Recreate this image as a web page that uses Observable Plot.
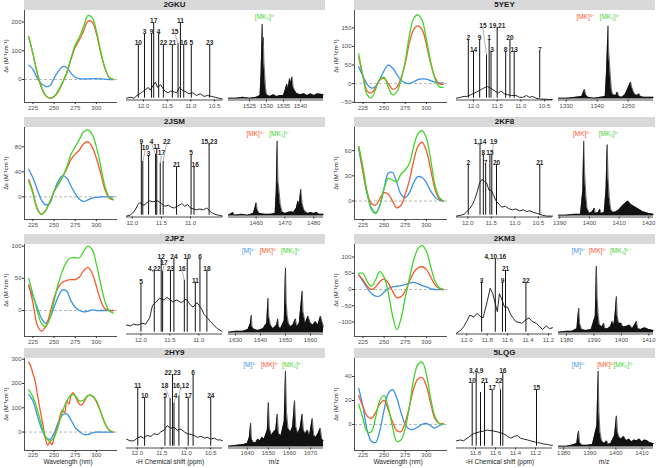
<!DOCTYPE html>
<html><head><meta charset="utf-8">
<script src="https://cdn.jsdelivr.net/npm/d3@7"></script>
<script src="https://cdn.jsdelivr.net/npm/@observablehq/plot@0.6"></script>
<style>
body{margin:0;background:#fff;font-family:"Liberation Sans",Arial,sans-serif}
#fig{position:relative;width:660px;height:468px;overflow:hidden;background:#fff}
</style></head><body><div id="fig"></div>
<script>
// ---------- shared ----------
const wl = [220,225,230,235,240,245,250,255,260,265,270,275,280,285,290,295,300,305,310,315,320];
const wlFine = [220,222.5,225,227.5,230,232.5,235,237.5,240,242.5,245,247.5,250,252.5,255,257.5,260,262.5,265,267.5,270,272.5,275,277.5,280,282.5,285,287.5,290,292.5,295,297.5,300,302.5,305,307.5,310,312.5,315,317.5,320];
const cdTicksX = [225,250,275,300];
const seriesNames = ["M","MK","MK2"];
const msLabelText = {M:"[M]⁵⁻", MK:"[MK]⁵⁻", MK2:"[MK₂]⁵⁻"};

// ---------- 2GKU ----------
const gku_M   = [50,35,5,-15,-24,-22,5,28,45,42,22,8,3,2,2,3,3,2,1,0,0];
const gku_MK  = [148,88,22,-28,-57,-65,-60,-42,-12,22,70,112,138,170,203,200,160,95,40,8,0];
const gku_MK2 = [150,90,25,-25,-55,-65,-58,-38,-10,25,75,120,148,185,222,215,170,100,42,8,0];
const gku_cdTicks = [0,100,200];
const gku_nmrTicks = [12.0,11.5,11.0,10.5];
const gku_base = [[12.36,2],[12.28,3],[12.2,2],[12.14,5],[12.05,8],[11.95,12],[11.9,14],[11.86,11],[11.8,16],[11.75,20],[11.7,14],[11.64,17],[11.55,10],[11.48,8],[11.43,10],[11.35,9],[11.3,8],[11.24,14],[11.18,11],[11.1,9],[11.04,7],[10.95,8],[10.88,5],[10.8,7],[10.72,4],[10.65,5],[10.56,4],[10.48,3],[10.4,2],[10.33,1]];
const gku_peaks = [
 {p:12.11,h:61.8,t:"10"},{p:11.98,h:74.2,t:"3"},{p:11.83,h:74.2,t:"9"},{p:11.785,h:86.5,t:"17"},
 {p:11.68,h:74.2,t:"4"},{p:11.58,h:61.8,t:"22"},{p:11.39,h:61.8,t:"21"},{p:11.27,h:63,t:"15",lx:11.34,lh:74.2},
 {p:11.22,h:86.5,t:"11"},{p:11.15,h:61.8,t:"16"},{p:10.99,h:61.8,t:"5"},{p:10.60,h:61.8,t:"23"}];
const gku_ms = [[1518.8,2],[1521,2],[1523,3],[1525,2],[1527,3],[1528.1,5],[1528.4,30],[1528.6,60],[1528.75,85],[1528.9,62],[1529.05,70],[1529.25,42],[1529.45,30],[1529.7,14],[1530,6],[1531,4],[1532,6],[1533,4],[1534,5],[1535,5],[1535.5,11],[1536,18],[1536.4,13],[1536.8,24],[1537.2,19],[1537.5,26],[1537.9,14],[1538.4,10],[1539,7],[1540,6],[1541,7],[1542,5],[1543,7],[1544,5],[1545,7],[1546.8,6]];
const gku_msTicks = [1525,1530,1535,1540];
const gku_msLab = [[1529.6,"MK2"]];

// ---------- 5YEY ----------
const yey_M   = [45,20,-2,-12,-8,12,35,50,42,25,9,2,0,5,11,13,12,8,4,2,2];
const yey_MK  = [72,20,-20,-25,-10,10,14,0,-15,-10,15,55,110,145,155,145,105,55,18,0,-2];
const yey_MK2 = [80,20,-30,-38,-15,12,17,-10,-30,-22,10,60,130,175,185,170,120,60,15,-8,-10];
const yey_cdTicks = [-50,0,50,100,150];
const yey_nmrTicks = [12.0,11.5,11.0,10.5];
const yey_base = [[12.36,2],[12.28,3],[12.2,4],[12.14,4],[12.05,6],[11.97,8],[11.9,10],[11.83,12],[11.76,14],[11.7,15],[11.6,12],[11.55,10],[11.47,8],[11.42,10],[11.35,7],[11.28,6],[11.2,5],[11.1,5],[11.03,3],[10.96,3],[10.88,5],[10.82,3],[10.75,4],[10.68,2],[10.58,1],[10.5,1],[10.4,0.5],[10.33,0.5]];
const yey_peaks = [
 {p:12.11,h:67.4,t:"2"},{p:12.0,h:54.3,t:"14"},{p:11.87,h:67.4,t:"9"},{p:11.725,h:50,t:"15",lx:11.80,lh:80.6},
 {p:11.67,h:67.4,t:"1"},{p:11.63,h:54.3,t:"3",lx:11.61},{p:11.50,h:80.6,t:"19,21"},{p:11.32,h:54.3,t:"8"},
 {p:11.23,h:67.4,t:"20"},{p:11.14,h:54.3,t:"13"},{p:10.60,h:54.3,t:"7"}];
const yey_ms = [[1327.5,2],[1330,2],[1333,3],[1335,4],[1335.5,8],[1335.9,12],[1336.3,6],[1337,3],[1339,2],[1341,3],[1342.6,4],[1343,30],[1343.3,60],[1343.5,83],[1343.7,55],[1344,40],[1344.3,25],[1344.6,12],[1345,6],[1346,5],[1346.5,9],[1347,4],[1348,3],[1349,6],[1349.8,12],[1350.3,16],[1350.8,20],[1351.2,14],[1351.6,10],[1352.2,6],[1353,5],[1353.5,7],[1354,4],[1355,3],[1356,3],[1358.2,3]];
const yey_msTicks = [1330,1340,1350];
const yey_msLab = [[1336.2,"MK"],[1344.1,"MK2"]];

// ---------- 2JSM ----------
const jsm_M   = [44,30,12,-5,-13,-10,9,25,34,30,17,5,-4,-7.5,-5,-2,-1,0,0,0,0];
const jsm_MK  = [28,8,-18,-28,-22,-8,8,20,32,45,60,68,75,85,88,80,62,38,12,-2,-5];
const jsm_MK2 = [25,5,-20,-28,-22,-8,8,20,32,48,68,80,92,104,107,100,80,50,18,0,-4];
const jsm_cdTicks = [0,40,80];
const jsm_nmrTicks = [12.0,11.5,11.0];
const jsm_base = [[12.1,1],[12.04,2],[12.0,4],[11.95,8],[11.9,14],[11.87,16],[11.8,13],[11.75,16],[11.7,18],[11.64,17],[11.56,18],[11.5,15],[11.44,12],[11.38,13],[11.33,11],[11.28,10],[11.2,13],[11.15,15],[11.1,12],[11.05,14],[11.0,10],[10.9,8],[10.84,9],[10.78,8],[10.72,10],[10.64,5],[10.58,3],[10.52,2],[10.45,1]];
const jsm_peaks = [
 {p:11.845,h:82.4,t:"9"},{p:11.82,h:62,t:"10",lx:11.775,lh:75.5},{p:11.72,h:68.5,t:"3"},{p:11.6,h:70,t:"4",lx:11.67,lh:82.4},
 {p:11.58,h:76.7,t:"11"},{p:11.52,h:60,t:"17",lx:11.5,lh:69.3},{p:11.47,h:62,t:"22",lx:11.41,lh:82.4},{p:11.24,h:56.2,t:"21"},
 {p:10.99,h:69.3,t:"5"},{p:10.94,h:56.2,t:"16",lx:10.92},{p:10.68,h:82.4,t:"15,23"}];
const jsm_ms = [[1450.4,2],[1452,5],[1452.5,2],[1455,3],[1457,2],[1459,4],[1459.6,10],[1460,16],[1460.4,8],[1461,4],[1463,3],[1465,3],[1466.6,4],[1467,30],[1467.3,85],[1467.6,40],[1468,28],[1468.4,14],[1469,6],[1470,4],[1471,5],[1472,6],[1473,5],[1474,10],[1474.5,18],[1475,14],[1475.5,31],[1476,15],[1476.5,9],[1477,6],[1478,4],[1479,5],[1480,4],[1481,5],[1482,3],[1483.4,3]];
const jsm_msTicks = [1460,1470,1480];
const jsm_msLab = [[1459.8,"MK"],[1468.1,"MK2"]];

// ---------- 2KF8 ----------
const kf8_M   = [62,35,8,-8,-14,-5,15,33,34,22,8,4,10,22,29,28,22,12,5,1,0];
const kf8_MK  = [65,35,10,-3,-5,3,10,8,0,-8,-5,8,25,48,65,70,60,38,15,3,0];
const kf8_MK2 = [65,40,10,-10,-15,-5,15,27,25,23,32,37,45,65,80,84,75,50,20,5,0];
const kf8_cdTicks = [0,30,60];
const kf8_nmrTicks = [12.0,11.5,11.0,10.5];
const kf8_base = [[12.24,1],[12.15,2],[12.08,3],[12.02,6],[11.95,10],[11.9,14],[11.85,20],[11.8,28],[11.75,38],[11.7,42],[11.65,40],[11.6,38],[11.55,30],[11.5,30],[11.45,24],[11.4,18],[11.33,14],[11.28,11],[11.2,12],[11.12,9],[11.05,8],[10.98,9],[10.9,7],[10.82,8],[10.75,6],[10.68,7],[10.6,5],[10.52,4],[10.42,2],[10.32,1],[10.2,1]];
const kf8_peaks = [
 {p:11.99,h:58.8,t:"2"},{p:11.74,h:82.4,t:"1,14"},{p:11.67,h:70,t:"8"},{p:11.62,h:58.8,t:"7"},
 {p:11.53,h:70,t:"15"},{p:11.49,h:70,t:"19",lx:11.45,lh:82.4},{p:11.39,h:58.8,t:"20"},{p:10.47,h:58.8,t:"21"}];
const kf8_ms = [[1389.6,2],[1392,2],[1395,3],[1397,3],[1397.8,30],[1398.1,85],[1398.4,50],[1398.8,25],[1399.2,10],[1400,4],[1401,6],[1401.7,10],[1402,4],[1403,5],[1403.5,9],[1404,4],[1405,5],[1405.6,30],[1406,81],[1406.3,45],[1406.7,22],[1407.2,8],[1408,5],[1409,6],[1410,8],[1411,12],[1412,15],[1413,18],[1414,14],[1415,12],[1416,10],[1417,8],[1418,6],[1419,5],[1420,4],[1421.6,3]];
const kf8_msTicks = [1390,1400,1410,1420];
const kf8_msLab = [[1397.5,"MK"],[1406.6,"MK2"]];

// ---------- 2JPZ ----------
const jpz_M   = [38,22,5,-12,-20,-12,5,22,32,30,15,5,0,-2,-1,1,0,0,0,0,0];
const jpz_MK  = [40,12,-22,-32,-25,-5,20,36,44,47,48,48,52,62,67,58,38,16,3,0,0];
const jpz_MK2 = [50,25,0,-20,-25,-12,15,42,62,76,82,82,82,92,100,95,72,42,15,0,-4];
const jpz_cdTicks = [0,50,100];
const jpz_nmrTicks = [12.0,11.5,11.0];
const jpz_base = [[12.25,10],[12.18,9],[12.13,11],[12.05,10],[11.98,12],[11.92,11],[11.85,18],[11.8,32],[11.73,36],[11.68,40],[11.6,38],[11.55,41],[11.45,36],[11.38,38],[11.3,35],[11.22,39],[11.15,33],[11.1,30],[11.03,35],[10.95,28],[10.91,22],[10.85,18],[10.8,14],[10.74,10],[10.68,6],[10.6,3]];
const jpz_peaks = [
 {p:12.0,h:56.2,t:"5"},{p:11.77,h:71.1,t:"4,22"},{p:11.65,h:84.3,t:"12"},{p:11.625,h:70,t:"17",lx:11.6,lh:77.5},
 {p:11.49,h:71.1,t:"23"},{p:11.43,h:84.3,t:"24"},{p:11.25,h:60,t:"16",lx:11.29,lh:71.1},{p:11.20,h:84.3,t:"10"},
 {p:11.06,h:58.1,t:"11"},{p:10.98,h:84.3,t:"6"},{p:10.86,h:71.1,t:"18"}];
const jpz_ms = [[1627.2,2],[1630,3],[1633,3],[1635,5],[1636,12],[1636.3,21],[1636.6,8],[1637.5,5],[1639,4],[1641,6],[1642.5,12],[1643,40],[1643.3,20],[1644,10],[1645,6],[1646.5,10],[1646.9,17],[1647.3,8],[1648,6],[1649.5,15],[1650,74],[1650.3,35],[1650.7,20],[1651.2,12],[1652,8],[1653,10],[1654,17],[1654.5,8],[1655.5,12],[1656.7,48],[1657,25],[1657.5,18],[1658,12],[1659,20],[1660,12],[1661,10],[1662,14],[1663,10],[1664,20],[1665.2,8]];
const jpz_msTicks = [1630,1640,1650,1660];
const jpz_msLab = [[1635.3,"M"],[1643.3,"MK"],[1652.3,"MK2"]];

// ---------- 2KM3 ----------
const km3_M   = [45,25,5,-12,-20,-20,-8,3,8,10,12,15,20,22,18,12,8,3,0,0,0];
const km3_MK  = [45,30,10,0,8,25,32,20,-5,-25,-22,-5,25,52,66,70,62,40,15,3,0];
const km3_MK2 = [50,50,25,10,30,55,38,-10,-80,-124,-90,-25,35,90,125,136,118,72,28,6,0];
const km3_cdTicks = [-100,-50,0,50,100];
const km3_nmrTicks = [12.0,11.8,11.6,11.4,11.2];
const km3_base = [[12.1,1],[12.06,4],[12.03,8],[12.0,14],[11.97,21],[11.93,19],[11.9,23],[11.87,20],[11.84,18],[11.8,36],[11.77,51],[11.745,45],[11.70,25],[11.68,45],[11.66,40],[11.63,30],[11.6,30],[11.57,22],[11.54,17],[11.52,14],[11.49,13],[11.46,12],[11.42,16],[11.39,18],[11.36,14],[11.32,12],[11.29,9],[11.26,5],[11.22,9],[11.19,6],[11.16,7]];
const km3_peaks = [
 {p:11.854,h:58.1,t:"3"},{p:11.72,h:84.3,t:"4,10,16"},{p:11.65,h:58.1,t:"9"},{p:11.62,h:71.1,t:"21"},{p:11.42,h:58.1,t:"22"}];
const km3_ms = [[1377.1,2],[1380,3],[1382,3],[1383.8,6],[1384.2,20],[1384.5,29],[1384.8,12],[1385.5,5],[1387,4],[1389,5],[1390.5,20],[1390.9,76],[1391.2,40],[1391.6,20],[1392,10],[1393,8],[1393.6,12],[1394,6],[1395,6],[1396,8],[1396.7,14],[1397.3,10],[1397.8,25],[1398.2,42],[1398.5,20],[1399,12],[1400,12],[1400.5,8],[1401.5,8],[1403,10],[1404,6],[1405.5,14],[1406,6],[1407,5],[1408.5,7],[1410,5],[1411.7,4]];
const km3_msTicks = [1380,1390,1400,1410];
const km3_msLab = [[1384.4,"M"],[1391.5,"MK"],[1399.6,"MK2"]];

// ---------- 2HY9 ----------
const hy9_M   = [155,128,70,15,-20,-30,-5,40,70,75,50,18,2,-10,-10,-3,0,0,0,0,0];
const hy9_MK  = [288,270,240,212,160,110,62,15,-30,-55,-40,-52,-22,5,30,72,90,80,128,115,150,162,148,130,115,112,122,138,150,152,148,140,125,105,85,60,38,20,8,2,0];
const hy9_MK2 = [175,145,95,30,-20,-37,-22,25,85,128,152,150,128,132,150,150,130,85,35,8,0];
const hy9_cdTicks = [0,100,200,300];
const hy9_nmrTicks = [12.0,11.5,11.0,10.5];
const hy9_base = [[12.22,10],[12.15,8],[12.07,8],[12.0,11],[11.93,13],[11.87,11],[11.8,14],[11.72,13],[11.66,16],[11.58,15],[11.52,18],[11.45,20],[11.39,25],[11.32,22],[11.25,23],[11.18,20],[11.11,21],[11.04,18],[10.98,16],[10.9,15],[10.84,14],[10.77,12],[10.7,13],[10.63,11],[10.57,12],[10.5,10],[10.43,11],[10.36,9],[10.3,9],[10.26,8]];
const hy9_peaks = [
 {p:11.99,h:67.8,t:"11"},{p:11.85,h:56.6,t:"10"},{p:11.435,h:56.6,t:"5"},{p:11.33,h:55,t:"18",lx:11.44,lh:67.8},
 {p:11.28,h:82,t:"22,23"},{p:11.25,h:50,t:"4",lx:11.22,lh:56.6},{p:11.15,h:58,t:"16,12",lx:11.11,lh:67.8},
 {p:10.96,h:56.6,t:"17"},{p:10.86,h:82,t:"6"},{p:10.50,h:56.6,t:"24"}];
const hy9_ms = [[1631.1,2],[1635,3],[1638,4],[1640,5],[1641,12],[1641.6,28],[1642,10],[1643,6],[1644,6],[1645,10],[1646,8],[1647,12],[1648,10],[1649.5,20],[1650,51],[1650.5,22],[1651.5,14],[1652.5,18],[1653.5,20],[1654.2,38],[1654.8,16],[1656,14],[1657.5,30],[1658.1,86],[1658.6,40],[1659.3,22],[1660.5,18],[1661.5,24],[1662.4,53],[1663,24],[1664,16],[1665,22],[1666,38],[1666.6,20],[1667.5,16],[1668.5,20],[1669.5,14],[1670.8,33],[1671.5,14],[1672.5,12],[1673.5,16],[1674.6,22],[1675.3,10],[1676.1,8]];
const hy9_msTicks = [1640,1650,1660,1670];
const hy9_msLab = [[1641.3,"M"],[1650.8,"MK"],[1661.3,"MK2"]];

// ---------- 5LQG ----------
const lqg_M   = [30,15,-5,-14,-15,-5,12,26,29,22,10,0,-4,-4,-2,0,1,-1,-3,-1,0];
const lqg_MK  = [24,15,7,5,10,17,20,12,2,-5,-6,2,15,30,38,39,32,18,5,1,1];
const lqg_MK2 = [17,5,-6,-6,6,20,24,14,-2,-14,-13,-3,15,38,50,52,42,22,7,1,0];
const lqg_cdTicks = [0,20,40];
const lqg_nmrTicks = [11.8,11.6,11.4,11.2];
const lqg_base = [[11.99,8],[11.95,9],[11.92,8],[11.87,12],[11.82,16],[11.76,18],[11.68,20],[11.62,19],[11.58,18],[11.52,16],[11.48,13],[11.45,11],[11.41,13],[11.38,14],[11.35,11],[11.32,10],[11.28,9],[11.25,8],[11.18,6],[11.15,5.5],[11.12,4.5],[11.08,4],[11.05,3],[11.03,3]];
const lqg_peaks = [
 {p:11.833,h:72.7,t:"10"},{p:11.793,h:83.9,t:"3,4,9"},{p:11.75,h:62,t:""},{p:11.71,h:72.7,t:"21"},
 {p:11.633,h:65.2,t:"17"},{p:11.55,h:65,t:"22",lx:11.567,lh:72.7},{p:11.527,h:83.9,t:"16"},{p:11.19,h:65.2,t:"15"}];
const lqg_ms = [[1378,2],[1381,2],[1383,3],[1385,5],[1385.4,14],[1385.7,19],[1386.1,6],[1387,3],[1389,3],[1391,4],[1392.7,25],[1393.2,86],[1393.5,40],[1393.9,18],[1394.5,8],[1395.5,5],[1396.5,8],[1397,4],[1398,5],[1399.5,14],[1400.2,36],[1400.6,18],[1401.2,12],[1402,10],[1403,13],[1404,8],[1405,10],[1406,7],[1407,9],[1408,8],[1409,10],[1410,7],[1411,9],[1412,8],[1413,6],[1414.4,5]];
const lqg_msTicks = [1380,1390,1400,1410];
const lqg_msLab = [[1385.7,"M"],[1396.3,"MK"],[1403,"MK2"]];

// ---------- panel table (built from the arrays above) ----------
const panels = [
 {id:"2GKU", M:gku_M, MK:gku_MK, MK2:gku_MK2, cdY:[-80,240], cdT:gku_cdTicks, nmrX:[12.36,10.33], nmrT:gku_nmrTicks, base:gku_base, peaks:gku_peaks, msX:[1518.8,1546.8], ms:gku_ms, msT:gku_msTicks, msLab:gku_msLab},
 {id:"5YEY", M:yey_M, MK:yey_MK, MK2:yey_MK2, cdY:[-50.7,196.5], cdT:yey_cdTicks, nmrX:[12.36,10.33], nmrT:yey_nmrTicks, base:yey_base, peaks:yey_peaks, msX:[1327.5,1358.2], ms:yey_ms, msT:yey_msTicks, msLab:yey_msLab},
 {id:"2JSM", M:jsm_M, MK:jsm_MK, MK2:jsm_MK2, cdY:[-36.3,110.9], cdT:jsm_cdTicks, nmrX:[12.1,10.45], nmrT:jsm_nmrTicks, base:jsm_base, peaks:jsm_peaks, msX:[1450.4,1483.4], ms:jsm_ms, msT:jsm_msTicks, msLab:jsm_msLab},
 {id:"2KF8", M:kf8_M, MK:kf8_MK, MK2:kf8_MK2, cdY:[-22,87.6], cdT:kf8_cdTicks, nmrX:[12.24,10.2], nmrT:kf8_nmrTicks, base:kf8_base, peaks:kf8_peaks, msX:[1389.6,1421.6], ms:kf8_ms, msT:kf8_msTicks, msLab:kf8_msLab},
 {id:"2JPZ", M:jpz_M, MK:jpz_MK, MK2:jpz_MK2, cdY:[-40.4,102.6], cdT:jpz_cdTicks, nmrX:[12.25,10.59], nmrT:jpz_nmrTicks, base:jpz_base, peaks:jpz_peaks, msX:[1627.2,1665.2], ms:jpz_ms, msT:jpz_msTicks, msLab:jpz_msLab},
 {id:"2KM3", M:km3_M, MK:km3_MK, MK2:km3_MK2, cdY:[-144.6,138.5], cdT:km3_cdTicks, nmrX:[12.1,11.16], nmrT:km3_nmrTicks, base:km3_base, peaks:km3_peaks, msX:[1377.1,1411.7], ms:km3_ms, msT:km3_msTicks, msLab:km3_msLab},
 {id:"2HY9", M:hy9_M, MK:hy9_MK, MK2:hy9_MK2, wlMK:wlFine, cdY:[-76,303], cdT:hy9_cdTicks, nmrX:[12.22,10.26], nmrT:hy9_nmrTicks, base:hy9_base, peaks:hy9_peaks, msX:[1631.1,1676.1], ms:hy9_ms, msT:hy9_msTicks, msLab:hy9_msLab},
 {id:"5LQG", M:lqg_M, MK:lqg_MK, MK2:lqg_MK2, cdY:[-21.7,55], cdT:lqg_cdTicks, nmrX:[11.99,11.03], nmrT:lqg_nmrTicks, base:lqg_base, peaks:lqg_peaks, msX:[1378,1414.4], ms:lqg_ms, msT:lqg_msTicks, msLab:lqg_msLab}
];

// ---------- drawing ----------
const COLORS = {M:"#3b92e6", MK:"#f8592c", MK2:"#43d52b"};
const FONT = '"Liberation Sans", Arial, Helvetica, sans-serif';
const rowTop = [0,117,234,348];
const colLeft = [0,330];
const fig = document.getElementById("fig");
const svgStyle = {fontFamily:FONT, fontSize:"6px", color:"#4d4d4d", background:"transparent", overflow:"visible"};

function put(el, x, y){ el.style.position="absolute"; el.style.left=x+"px"; el.style.top=y+"px"; fig.appendChild(el); return el; }
function div(txt, x, y, css){ const d=document.createElement("div"); d.textContent=txt; Object.assign(d.style, {fontFamily:FONT, whiteSpace:"nowrap"}, css); return put(d, x, y); }

function cdChart(P, pad){
  const wls = {M:P.wlM||wl, MK:P.wlMK||wl, MK2:P.wlMK2||wl};
  const lines = seriesNames.map(s => Plot.line(P[s].map((v,i)=>({x:wls[s][i], y:v})), {x:"x", y:"y", stroke:COLORS[s], strokeWidth:1.3, curve:"catmull-rom"}));
  return Plot.plot({
    width:122, height:112, marginLeft:24, marginRight:5, marginTop:10, marginBottom:10,
    style:svgStyle,
    x:{domain:[215,325]}, y:{domain:P.cdY},
    marks:[
      Plot.ruleY([0], {stroke:"#a6a6a6", strokeDasharray:"3,2", strokeWidth:0.8}),
      ...lines,
      Plot.ruleX([215], {stroke:"#222", strokeWidth:0.8}),
      Plot.ruleY([P.cdY[0]], {stroke:"#222", strokeWidth:0.8}),
      Plot.axisX({ticks:cdTicksX, tickSize:2, tickPadding:pad, fontSize:6, label:null, stroke:"#333", fill:"#4d4d4d"}),
      Plot.axisY({ticks:P.cdT, tickSize:2, tickPadding:1, fontSize:6, label:null, stroke:"#333", fill:"#4d4d4d"})
    ]
  });
}

function nmrChart(P, pad){
  const pk = P.peaks.map(d=>({...d, lx:d.lx ?? d.p, lh:d.lh ?? d.h}));
  const leaders = pk.filter(d=>d.lx!==d.p || d.lh!==d.h);
  return Plot.plot({
    width:100, height:112, marginLeft:2, marginRight:2, marginTop:10, marginBottom:12.5,
    style:svgStyle,
    x:{domain:P.nmrX}, y:{domain:[0,100], axis:null},
    marks:[
      Plot.line(P.base, {x:d=>d[0], y:d=>d[1], stroke:"#111", strokeWidth:0.9}),
      Plot.ruleX(pk, {x:"p", y1:2, y2:"h", stroke:"#111", strokeWidth:1}),
      Plot.link(leaders, {x1:"p", y1:"h", x2:"lx", y2:"lh", stroke:"#666", strokeWidth:0.5}),
      Plot.text(pk, {x:"lx", y:"lh", text:"t", lineAnchor:"bottom", dy:0.5, fontWeight:"bold", fontSize:6.5, fill:"#262626"}),
      Plot.ruleY([0], {stroke:"#222", strokeWidth:0.8}),
      Plot.axisX({ticks:P.nmrT, tickFormat:".1f", tickSize:2, tickPadding:pad, fontSize:6, label:null, stroke:"#333", fill:"#4d4d4d"})
    ]
  });
}

function msChart(P, pad){
  const labs = P.msLab.map(([mz, key]) => Plot.text([mz], {x:d=>d, y:93, text:()=>msLabelText[key], fill:COLORS[key], fontSize:6.5}));
  return Plot.plot({
    width:99, height:112, marginLeft:2, marginRight:2, marginTop:10, marginBottom:12.5,
    style:svgStyle,
    x:{domain:P.msX}, y:{domain:[0,100], axis:null},
    marks:[
      Plot.areaY(P.ms, {x:d=>d[0], y1:1, y2:d=>d[1], fill:"#111"}),
      Plot.line(P.ms, {x:d=>d[0], y:d=>d[1], stroke:"#111", strokeWidth:0.6}),
      ...labs,
      Plot.ruleY([0], {stroke:"#222", strokeWidth:0.8}),
      Plot.axisX({ticks:P.msT, tickFormat:"d", tickSize:2, tickPadding:pad, fontSize:6, label:null, stroke:"#333", fill:"#4d4d4d"})
    ]
  });
}

panels.forEach((P, i) => {
  const col = i % 2, row = Math.floor(i / 2);
  const X = colLeft[col], Y = rowTop[row];
  const pad = row === 3 ? 0.5 : 1.5;
  div(P.id, X+24, Y, {width:"301px", height:"10px", lineHeight:"10px", background:"#d9d9d9", textAlign:"center", fontWeight:"bold", fontSize:"8px", color:"#1a1a1a"});
  put(cdChart(P, pad), X, Y);
  put(nmrChart(P, pad), X+124, Y);
  put(msChart(P, pad), X+226, Y);
  div("Δε (M⁻¹cm⁻¹)", X+6-45, Y+56-5, {width:"90px", height:"10px", lineHeight:"10px", textAlign:"center", fontSize:"6px", color:"#1a1a1a", transform:"rotate(-90deg)"});
  if (row === 3) {
    div("Wavelength (nm)", X+68-40, 457, {width:"80px", textAlign:"center", fontSize:"6.5px", color:"#1a1a1a", lineHeight:"10px"});
    div("¹H Chemical shift (ppm)", X+170-50, 457, {width:"100px", textAlign:"center", fontSize:"6.5px", color:"#1a1a1a", lineHeight:"10px"});
    div("m/z", X+274-20, 457, {width:"40px", textAlign:"center", fontSize:"6.5px", color:"#1a1a1a", lineHeight:"10px"});
  }
});
</script></body></html>
